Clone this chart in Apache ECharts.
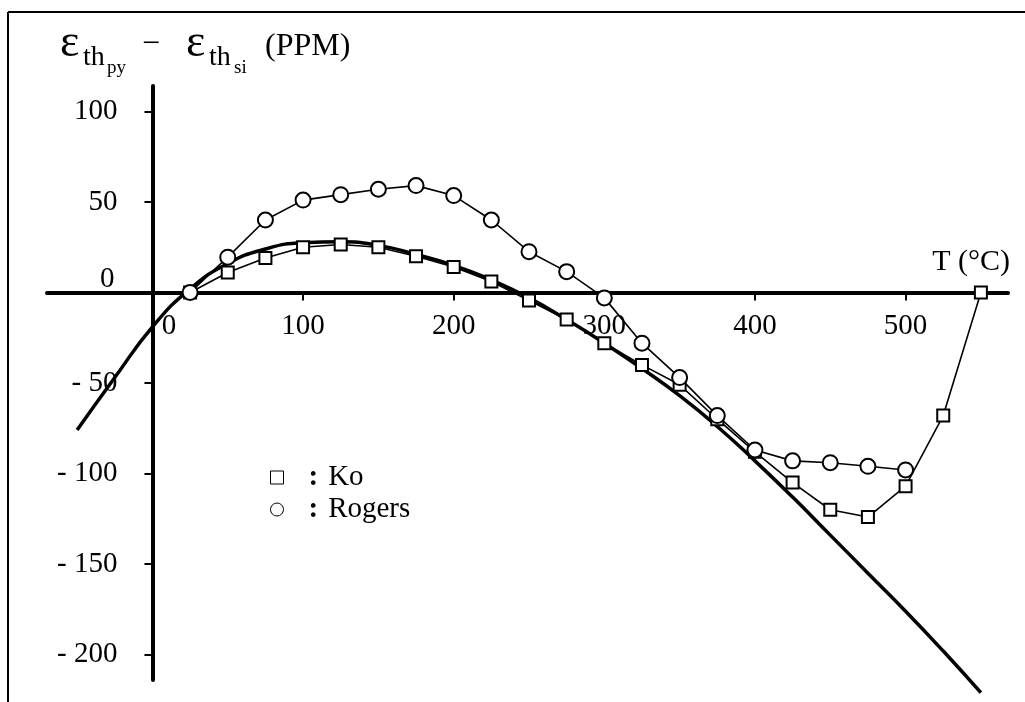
<!DOCTYPE html>
<html>
<head>
<meta charset="utf-8">
<title>ε th_py − ε th_si (PPM)</title>
<script src="https://cdn.jsdelivr.net/npm/echarts@6/dist/echarts.min.js"></script>
<style>
    html, body {margin: 0; padding: 0; background: #fff;}
    #strain-chart {width: 1025px; height: 702px;}
</style>
</head>
<body>
<div id="strain-chart"></div>
<script>
/*
* 热应变差 vs 温度
* */
var koTemp = [25, 50, 75, 100, 125, 150, 175, 200, 225, 250, 275, 300, 325, 350, 375, 400, 425, 450, 475, 500, 525, 550];
var koValue = [0, 11, 19, 25, 26.5, 25, 20, 14, 6, -4.5, -15, -28, -40, -51, -70, -88, -105, -120, -124, -107, -68, 0];

var rogersTemp = [25, 50, 75, 100, 125, 150, 175, 200, 225, 250, 275, 300, 325, 350, 375, 400, 425, 450, 475, 500];
var rogersValue = [0, 19.5, 40, 51, 54, 57, 59, 53.5, 40, 22.5, 11.5, -3, -28, -47, -68, -87, -93, -94, -96, -98];

// 拟合曲线 (thick line without markers)
var fitTemp = [-50, -25, 0, 25, 50, 75, 100, 125, 150, 175, 200, 225, 250, 275, 300, 325, 350, 375, 400, 425, 450, 475, 500, 525, 550];
var fitValue = [-76, -47, -19, 2, 16, 24, 27.5, 28, 26, 21, 15, 7, -3, -15, -28, -42, -57, -74, -93, -113, -134, -155, -176, -198, -221];

var xTicks = [0, 100, 200, 300, 400, 500];
var yTicks = [-200, -150, -100, -50, 0, 50, 100];

var FONT = '"Liberation Serif", "Times New Roman", serif';

// grid and axis extents
var X_MIN = -70, X_MAX = 568, Y_MIN = -214, Y_MAX = 114;
var G_LEFT = 47, G_RIGHT = 17, G_TOP = 86, G_BOTTOM = 22;
var W = 1025, H = 702;

function pairs(xs, ys) {
    var out = [];
    for (var i = 0; i < xs.length; i++) {
        out.push([xs[i], ys[i]]);
    }
    return out;
}

function titleText(str, x, y, size) {
    return {
        type: 'text',
        x: x,
        y: y,
        style: {
            text: str,
            font: size + 'px ' + FONT,
            fill: '#000',
            verticalAlign: 'middle'
        }
    };
}

function Strain() {
    var myChart = echarts.init(document.getElementById('strain-chart'));

    // axes cross at the origin: shift them inward from the grid edges
    var gridW = W - G_LEFT - G_RIGHT;
    var gridH = H - G_TOP - G_BOTTOM;
    var zeroX = G_LEFT + (0 - X_MIN) / (X_MAX - X_MIN) * gridW;
    var zeroY = G_TOP + (Y_MAX - 0) / (Y_MAX - Y_MIN) * gridH;

    var option = {
        backgroundColor: '#fff',
        animation: false,
        textStyle: {fontFamily: FONT, color: '#000'},
        grid: {
            left: G_LEFT,
            right: G_RIGHT,
            top: G_TOP,
            bottom: G_BOTTOM,
            containLabel: false,
            outerBoundsMode: 'none'
        },
        graphic: [
            // frame
            {type: 'line', shape: {x1: 8, y1: 12, x2: 1025, y2: 12}, style: {stroke: '#000', lineWidth: 2}},
            {type: 'line', shape: {x1: 8, y1: 12, x2: 8, y2: 702}, style: {stroke: '#000', lineWidth: 2}},
            // y axis title
            titleText('ε', 60, 44, 46),
            titleText('th', 83, 58, 28),
            titleText('py', 107, 68, 19),
            titleText('−', 142, 45, 32),
            titleText('ε', 186, 44, 46),
            titleText('th', 209, 58, 28),
            titleText('si', 234, 68, 19),
            titleText('(PPM)', 265, 47, 32)
        ],
        legend: {
            orient: 'vertical',
            left: 265,
            top: 458,
            itemWidth: 13,
            itemHeight: 13,
            itemGap: 3,
            selectedMode: false,
            data: [
                {name: 'Ko', icon: 'rect', itemStyle: {color: '#fff', borderColor: '#000', borderWidth: 1}},
                {name: 'Rogers', icon: 'circle', itemStyle: {color: '#fff', borderColor: '#000', borderWidth: 1}}
            ],
            formatter: function (name) {
                return '{c|:}' + name;
            },
            textStyle: {
                fontFamily: FONT,
                fontSize: 29,
                lineHeight: 29,
                color: '#000',
                rich: {
                    c: {fontFamily: FONT, fontSize: 29, fontWeight: 'bold', padding: [0, 10, 0, 20]}
                }
            }
        },
        xAxis: {
            type: 'value',
            min: X_MIN,
            max: X_MAX,
            position: 'bottom',
            offset: -(G_TOP + gridH - zeroY),
            name: 'T (°C)',
            nameLocation: 'end',
            nameGap: 2,
            nameTextStyle: {
                fontFamily: FONT,
                fontSize: 30,
                color: '#000',
                align: 'right',
                verticalAlign: 'bottom',
                padding: [0, 0, 15, 0]
            },
            axisLine: {onZero: false, lineStyle: {color: '#000', width: 4}},
            axisTick: {show: true, customValues: xTicks, length: 8, lineStyle: {color: '#000', width: 2}},
            axisLabel: {
                customValues: xTicks,
                margin: 19,
                fontFamily: FONT,
                fontSize: 29,
                color: '#000',
                formatter: function (v) {
                    return v === 0 ? '{z|0}' : String(v);
                },
                rich: {
                    z: {fontFamily: FONT, fontSize: 29, padding: [0, 0, 0, 33]}
                }
            },
            splitLine: {show: false}
        },
        yAxis: {
            type: 'value',
            min: Y_MIN,
            max: Y_MAX,
            position: 'left',
            offset: -(zeroX - G_LEFT),
            axisLine: {onZero: false, lineStyle: {color: '#000', width: 4}},
            axisTick: {show: true, customValues: yTicks, length: 8, lineStyle: {color: '#000', width: 2}},
            axisLabel: {
                customValues: yTicks,
                margin: 35,
                fontFamily: FONT,
                fontSize: 29,
                color: '#000',
                formatter: function (v) {
                    if (v === 0) return '{z|0}';
                    return v < 0 ? '- ' + (-v) : String(v);
                },
                rich: {
                    z: {fontFamily: FONT, fontSize: 29, padding: [0, 3, 26, 0]}
                }
            },
            splitLine: {show: false}
        },
        series: [
            {
                name: 'fit',
                type: 'line',
                smooth: true,
                showSymbol: false,
                clip: false,
                lineStyle: {color: '#000', width: 3.5},
                data: pairs(fitTemp, fitValue),
                z: 2
            },
            {
                name: 'Ko',
                type: 'line',
                symbol: 'rect',
                symbolSize: 12,
                lineStyle: {color: '#000', width: 1.6},
                itemStyle: {color: '#fff', borderColor: '#000', borderWidth: 2},
                data: pairs(koTemp, koValue),
                z: 3
            },
            {
                name: 'Rogers',
                type: 'line',
                symbol: 'circle',
                symbolSize: 15,
                lineStyle: {color: '#000', width: 1.6},
                itemStyle: {color: '#fff', borderColor: '#000', borderWidth: 2},
                data: pairs(rogersTemp, rogersValue),
                z: 4
            }
        ]
    };

    myChart.setOption(option);
}

Strain();
</script>
</body>
</html>
